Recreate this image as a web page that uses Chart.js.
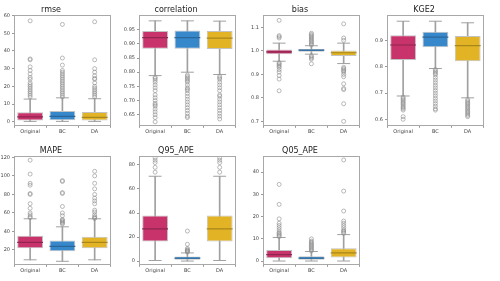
<!DOCTYPE html>
<html><head><meta charset="utf-8">
<script src="https://cdn.jsdelivr.net/npm/chart.js@4.4.1/dist/chart.umd.min.js"></script>
<style>html,body{margin:0;padding:0;background:#fff;width:500px;height:281px;overflow:hidden;position:relative}canvas{position:absolute}</style>
</head><body>
<script>
const categories = ['Original', 'BC', 'DA'];
// box stats per category: [lower whisker, q1, median, q3, upper whisker]
const rmseBox = [[0.2, 0.7, 2.7, 5.3, 12.8], [0.2, 0.8, 3.0, 6.0, 13.5], [0.2, 0.7, 2.5, 5.5, 13.0]];
const rmseOutliers = [
  [14, 15, 16, 17, 18, 19, 20, 21, 22, 24, 25, 27, 29, 31, 35, 35.5, 57],
  [14, 15, 16, 17, 18, 19, 20, 21, 22, 23, 24, 25, 26, 27, 28, 29, 32, 36, 55],
  [14, 15, 16, 17, 18, 19, 20, 22, 24, 24.5, 26, 28, 30, 35, 56.5]];
const rmseTicks = ['0', '10', '20', '30', '40', '50', '60'];
const rmseRange = [-2.3, 60.2];

const corrBox = [[0.788, 0.883, 0.922, 0.945, 0.981], [0.800, 0.883, 0.922, 0.947, 0.981], [0.792, 0.882, 0.920, 0.945, 0.980]];
const corrOutliers = [
  [0.782, 0.778, 0.772, 0.765, 0.755, 0.745, 0.735, 0.72, 0.71, 0.70, 0.69, 0.685, 0.68, 0.67, 0.66, 0.65, 0.64, 0.625],
  [0.79, 0.785, 0.78, 0.775, 0.77, 0.765, 0.755, 0.745, 0.74, 0.735, 0.725, 0.715, 0.705, 0.695, 0.685, 0.675, 0.665, 0.655, 0.645, 0.64],
  [0.785, 0.78, 0.775, 0.765, 0.755, 0.745, 0.735, 0.72, 0.715, 0.705, 0.695, 0.685, 0.675, 0.665, 0.655, 0.645, 0.635]];
const corrTicks = ['0.65', '0.70', '0.75', '0.80', '0.85', '0.90', '0.95'];
const corrRange = [0.611, 1.001];

const biasBox = [[0.956, 0.986, 0.996, 1.006, 1.033], [0.986, 0.996, 1.003, 1.008, 1.022], [0.946, 0.978, 0.992, 1.002, 1.033]];
const biasOutliers = [
  [1.13, 1.065, 1.06, 1.055, 0.95, 0.945, 0.94, 0.935, 0.93, 0.92, 0.91, 0.895, 0.88, 0.83],
  [1.075, 1.07, 1.065, 1.06, 1.055, 1.05, 1.045, 1.04, 1.035, 1.03, 1.025, 0.98, 0.975, 0.97, 0.965, 0.945],
  [1.115, 1.055, 1.045, 0.93, 0.925, 0.92, 0.915, 0.91, 0.90, 0.89, 0.86, 0.84, 0.835, 0.775, 0.70]];
const biasTicks = ['0.7', '0.8', '0.9', '1.0', '1.1'];
const biasRange = [0.681, 1.152];

const kgeBox = [[0.689, 0.827, 0.884, 0.921, 0.975], [0.794, 0.875, 0.914, 0.935, 0.975], [0.682, 0.822, 0.882, 0.918, 0.969]];
const kgeOutliers = [
  [0.685, 0.68, 0.675, 0.67, 0.665, 0.66, 0.655, 0.65, 0.645, 0.64, 0.635, 0.61, 0.60],
  [0.79, 0.785, 0.78, 0.775, 0.77, 0.76, 0.75, 0.74, 0.73, 0.72, 0.71, 0.70, 0.69, 0.68, 0.67, 0.66, 0.65, 0.64, 0.635],
  [0.675, 0.67, 0.665, 0.66, 0.655, 0.65, 0.645, 0.64, 0.635, 0.63, 0.625, 0.62, 0.615, 0.61]];
const kgeTicks = ['0.6', '0.7', '0.8', '0.9'];
const kgeRange = [0.575, 0.998];

const mapeBox = [[9.4, 22, 28.2, 35.3, 53.7], [7.8, 18.6, 24, 30.2, 45], [9.4, 22, 28.2, 34.3, 53.7]];
const mapeOutliers = [
  [55, 56, 58, 60, 65, 70, 80, 81, 90, 92, 102, 117],
  [48, 49, 50, 51, 52, 53, 57, 60, 67, 81, 82, 94, 95],
  [54, 55, 56, 58, 61, 63, 70, 73, 76, 80, 86, 92, 100, 105]];
const mapeTicks = ['20', '40', '60', '80', '100', '120'];
const mapeRange = [4, 121.3];

const q95Box = [[0.5, 16.3, 26.8, 38, 70.6], [0, 1, 2.4, 3.9, 6.8], [0.5, 16.3, 26.8, 38, 70.6]];
const q95Outliers = [
  [74, 78, 82, 84, 86],
  [7.5, 8, 8.5, 9, 9.5, 10.5, 14, 25],
  [74, 78, 82, 84, 86]];
const q95Ticks = ['0', '20', '40', '60', '80'];
const q95Range = [-3.1, 87.3];

const q05Box = [[0, 1.3, 2.85, 5, 10.6], [0, 0.6, 1.3, 2.1, 4.3], [0, 1.6, 3.7, 5.8, 11.9]];
const q05Outliers = [
  [11, 11.5, 12, 12.5, 13, 14, 15, 16, 17, 19, 25.5, 34.5],
  [4.5, 5, 5.5, 6, 6.5, 7, 7.5, 8, 8.5, 9, 10],
  [12.5, 13, 13.5, 14, 15, 16, 17, 18, 22.5, 31.5, 45.5]];
const q05Ticks = ['0', '10', '20', '30', '40'];
const q05Range = [-1.7, 47.2];

const FILL = ['#c8336b', '#3787cb', '#e2b324'];
const MEDIAN = ['#8f2550', '#2b6699', '#a8861c'];
const WHISK = '#a0a0a0';
const EDGE = '#c2c2c2';
const FONT = 'DejaVu Sans';

const colLeft = [14, 139, 263, 387];
const rowTop = [12, 153];
const rowH = [117, 115];
const PW = 108;
const LEFTW = 34, RIGHTP = 4, TITLEH = 12, BOTH = 12;

const framePlugin = {
  id: 'frame',
  afterDraw(chart) {
    const a = chart.chartArea, c = chart.ctx;
    c.save();
    c.strokeStyle = '#a8a8a8';
    c.lineWidth = 1;
    c.strokeRect(Math.round(a.left) + 0.5, Math.round(a.top) + 0.5, Math.round(a.right - a.left) - 1, Math.round(a.bottom - a.top) - 1);
    c.restore();
  }
};

function boxHalf(ctx) {
  const a = ctx.chart.chartArea;
  return a ? (a.right - a.left) / 3 * 0.8 / 2 : 14;
}

function makePanel(title, col, row, box, outliers, ticks, range) {
  const cv = document.createElement('canvas');
  const w = LEFTW + PW + RIGHTP, h = TITLEH + rowH[row] + BOTH;
  cv.width = w; cv.height = h;
  cv.style.left = (colLeft[col] - LEFTW) + 'px';
  cv.style.top = (rowTop[row] - TITLEH) + 'px';
  cv.style.width = w + 'px'; cv.style.height = h + 'px';
  document.body.appendChild(cv);

  const caps = [], outs = [], meds = [];
  box.forEach((b, i) => {
    caps.push({x: categories[i], y: b[0]}, {x: categories[i], y: b[4]});
    meds.push({x: categories[i], y: b[2]});
    outliers[i].forEach(v => outs.push({x: categories[i], y: v}));
  });
  const tickVals = ticks.map(t => parseFloat(t));

  new Chart(cv, {
    type: 'bar',
    data: {
      labels: categories,
      datasets: [
        {type: 'bar', data: box.map(b => [b[0], b[4]]), backgroundColor: WHISK, barThickness: 1, grouped: false, order: 5},
        {type: 'bar', data: box.map(b => [b[1], b[3]]), backgroundColor: FILL, borderColor: EDGE, borderWidth: 1,
          borderSkipped: false, barPercentage: 0.8, categoryPercentage: 1, grouped: false, order: 4},
        {type: 'line', data: meds, showLine: false, pointStyle: 'line', pointRadius: boxHalf, pointHoverRadius: boxHalf,
          pointBorderColor: MEDIAN, pointBorderWidth: 1.2, order: 3},
        {type: 'line', data: caps, showLine: false, pointStyle: 'line', pointRadius: c => boxHalf(c) / 2, pointHoverRadius: c => boxHalf(c) / 2,
          pointBorderColor: WHISK, pointBorderWidth: 1, order: 3},
        {type: 'line', data: outs, showLine: false, pointStyle: 'circle', pointRadius: 2, pointBackgroundColor: 'rgba(0,0,0,0)',
          pointBorderColor: '#8c8c8c', pointBorderWidth: 0.6, order: 2}
      ]
    },
    options: {
      responsive: false, animation: false, devicePixelRatio: 1,
      layout: {padding: {left: 0, right: RIGHTP, top: 0, bottom: 0}},
      plugins: {
        legend: {display: false}, tooltip: {enabled: false},
        title: {display: true, text: title, color: '#222', font: {family: FONT, size: 8, weight: 'normal', lineHeight: 1.2},
          padding: {top: TITLEH - 9.6, bottom: 0}}
      },
      scales: {
        x: {
          type: 'category', offset: true,
          grid: {display: true, drawOnChartArea: false, drawTicks: true, tickLength: 2, color: '#999'},
          border: {display: false},
          ticks: {font: {family: FONT, size: 5}, color: '#444', padding: 1, maxRotation: 0, autoSkip: false},
          afterFit: s => { s.height = BOTH; }
        },
        y: {
          type: 'linear', min: range[0], max: range[1],
          afterBuildTicks: s => { s.ticks = tickVals.map(v => ({value: v})); },
          grid: {display: true, drawOnChartArea: false, drawTicks: true, tickLength: 2, color: '#999'},
          border: {display: false},
          ticks: {font: {family: FONT, size: 5}, color: '#444', padding: 2,
            callback: v => { const k = tickVals.indexOf(v); return k >= 0 ? ticks[k] : ''; }},
          afterFit: s => { s.width = LEFTW; }
        }
      }
    },
    plugins: [framePlugin]
  });
}

makePanel('rmse', 0, 0, rmseBox, rmseOutliers, rmseTicks, rmseRange);
makePanel('correlation', 1, 0, corrBox, corrOutliers, corrTicks, corrRange);
makePanel('bias', 2, 0, biasBox, biasOutliers, biasTicks, biasRange);
makePanel('KGE2', 3, 0, kgeBox, kgeOutliers, kgeTicks, kgeRange);
makePanel('MAPE', 0, 1, mapeBox, mapeOutliers, mapeTicks, mapeRange);
makePanel('Q95_APE', 1, 1, q95Box, q95Outliers, q95Ticks, q95Range);
makePanel('Q05_APE', 2, 1, q05Box, q05Outliers, q05Ticks, q05Range);
</script>
</body></html>
